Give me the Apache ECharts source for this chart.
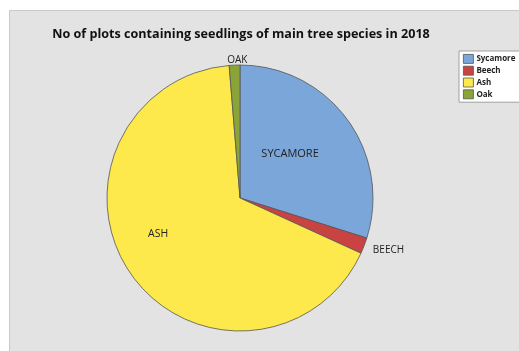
<!DOCTYPE html>
<html>
<head>
<meta charset="utf-8">
<script src="https://cdn.jsdelivr.net/npm/echarts@6/dist/echarts.min.js"></script>
<style>
  html, body { margin: 0; padding: 0; background: #fff; }
  #chart { width: 519px; height: 351px; }
</style>
</head>
<body>
<div id="chart"></div>
<script>
// species and plot counts
const species = ["Sycamore", "Beech", "Ash", "Oak"];
const sliceLabels = ["SYCAMORE", "BEECH", "ASH", "OAK"];
const plotCounts = [46, 3, 103, 2];
const colors = ["#7BA6DA", "#C94343", "#FDE94B", "#8AA43A"];

const chart = echarts.init(document.getElementById("chart"));

// labels inside the big slices, outside for the thin ones
const labelPos = ["inside", "outside", "inside", "outside"];
const labelOffset = [[-6, -3], [0, 3], [-25, -4], [18, -1]];
const labelSize = [11, 10, 10.5, 10];

const pieData = species.map((name, i) => ({
  name: name,
  value: plotCounts[i],
  itemStyle: { color: colors[i] },
  label: {
    position: labelPos[i],
    formatter: sliceLabels[i],
    offset: labelOffset[i],
    fontSize: labelSize[i]
  }
}));

const option = {
  animation: false,
  backgroundColor: "#fff",
  graphic: [
    {
      type: "rect",
      shape: { x: 9.5, y: 10.5, width: 520, height: 350 },
      style: { fill: "#e3e3e3", stroke: "#c9c9c9", lineWidth: 1 },
      z: -10
    }
  ],
  title: {
    text: "No of plots containing seedlings of main tree species in 2018",
    left: 236,
    top: 23,
    textAlign: "center",
    textStyle: {
      fontFamily: "Open Sans",
      fontSize: 12.6,
      fontWeight: "bold",
      color: "#111"
    }
  },
  legend: {
    orient: "vertical",
    left: 459,
    top: 51,
    data: species,
    icon: "rect",
    itemWidth: 10,
    itemHeight: 9,
    itemGap: 2,
    padding: [3, 6, 3, 4],
    backgroundColor: "#fff",
    borderColor: "#a0a0a0",
    borderWidth: 1,
    borderRadius: 0,
    itemStyle: { borderColor: "#555", borderWidth: 0.8 },
    textStyle: {
      fontFamily: "Open Sans",
      fontSize: 8,
      fontWeight: "bold",
      color: "#222",
      padding: [0, 0, 0, -2]
    }
  },
  series: [
    {
      type: "pie",
      center: [240, 198],
      radius: 133,
      startAngle: 90,
      clockwise: true,
      data: pieData,
      itemStyle: { borderColor: "#555", borderWidth: 0.8 },
      label: {
        show: true,
        fontFamily: "Open Sans",
        fontSize: 10,
        color: "#222"
      },
      labelLine: { show: false, length: 4, length2: 0 },
      emphasis: { disabled: true }
    }
  ]
};

chart.setOption(option);
window.addEventListener("resize", () => chart.resize());
</script>
</body>
</html>
